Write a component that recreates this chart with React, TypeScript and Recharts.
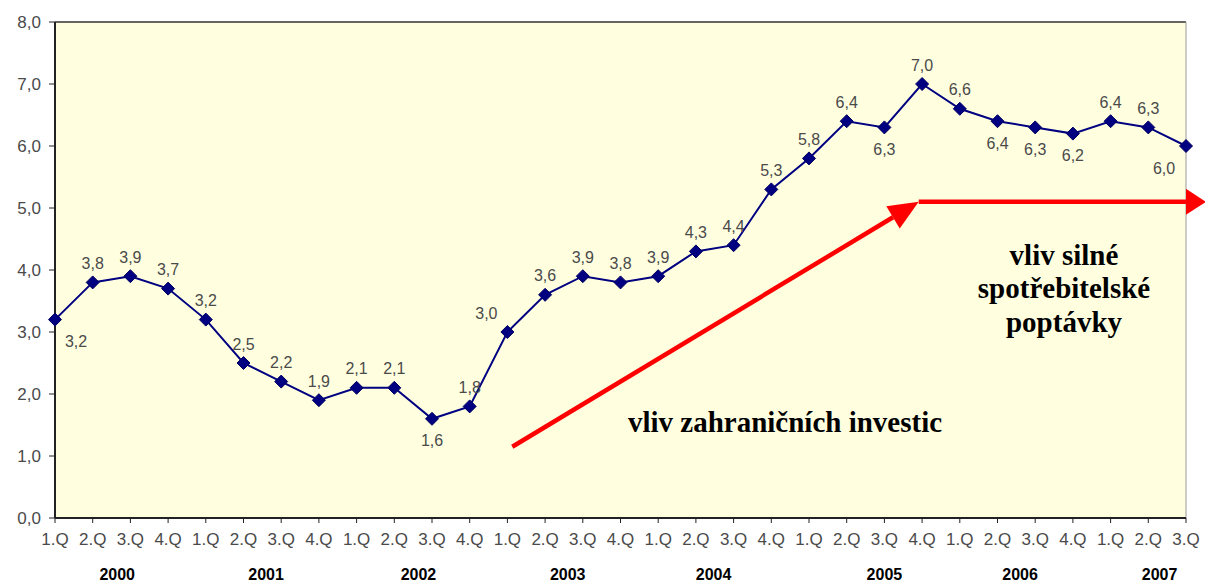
import { LineChart, Line, XAxis, YAxis, CartesianGrid, ReferenceLine, Customized } from 'recharts';

const quarters = [
  '1.Q', '2.Q', '3.Q', '4.Q', '1.Q', '2.Q', '3.Q', '4.Q', '1.Q', '2.Q', '3.Q', '4.Q',
  '1.Q', '2.Q', '3.Q', '4.Q', '1.Q', '2.Q', '3.Q', '4.Q', '1.Q', '2.Q', '3.Q', '4.Q',
  '1.Q', '2.Q', '3.Q', '4.Q', '1.Q', '2.Q', '3.Q',
];

const values = [
  3.2, 3.8, 3.9, 3.7, 3.2, 2.5, 2.2, 1.9, 2.1, 2.1, 1.6, 1.8,
  3.0, 3.6, 3.9, 3.8, 3.9, 4.3, 4.4, 5.3, 5.8, 6.4, 6.3, 7.0,
  6.6, 6.4, 6.3, 6.2, 6.4, 6.3, 6.0,
];

const years = ['2000', '2001', '2002', '2003', '2004', '2005', '2006', '2007'];
// where the year captions sit along the quarter axis
const yearTicks = [1.65, 5.6, 9.64, 13.6, 17.47, 22.0, 25.6, 29.3];

const yTicks = [0, 1, 2, 3, 4, 5, 6, 7, 8];

// labels drawn under the point instead of above
const belowIdx = [0, 10, 22, 25, 26, 27, 30];
const shiftIdx: Record<number, number> = { 0: 21, 12: -21, 30: -22 };

// arrows, in chart units (x = quarter index, y = value)
const arrowUp = [{ x: 12.13, y: 1.15 }, { x: 22.91, y: 5.1 }];
const arrowRight = [{ x: 22.91, y: 5.1 }, { x: 30.53, y: 5.1 }];

const data = values.map((v, i) => ({ i, v }));

const fmt = (n: number) => n.toFixed(1).replace('.', ',');

const Diamond = (props: any) => {
  const { cx, cy, index, payload } = props;
  if (cx == null || cy == null) return null;
  const s = 6.5;
  const below = belowIdx.includes(index);
  const dx = shiftIdx[index] ?? 0;
  const ty = below ? cy + 22 : cy - 19;
  return (
    <g key={`d-${index}`}>
      <polygon
        points={`${cx},${cy - s} ${cx + s},${cy} ${cx},${cy + s} ${cx - s},${cy}`}
        fill="#000080"
        stroke="#000060"
        strokeWidth={1}
      />
      <text
        x={cx + dx}
        y={ty}
        textAnchor="middle"
        dominantBaseline="central"
        fontSize={16}
        fontFamily="'Liberation Sans', Arial, sans-serif"
        fill="#4a4a4a"
      >
        {fmt(payload.v)}
      </text>
    </g>
  );
};

const Arrow = (props: any) => {
  const { x1, y1, x2, y2 } = props;
  if (x1 == null) return null;
  const len = props.headLen ?? 26;
  const half = props.headHalf ?? 12;
  const ang = Math.atan2(y2 - y1, x2 - x1);
  const bx = x2 - len * Math.cos(ang);
  const by = y2 - len * Math.sin(ang);
  const px = -Math.sin(ang) * half;
  const py = Math.cos(ang) * half;
  return (
    <g>
      <line x1={x1} y1={y1} x2={bx} y2={by} stroke="#FF0000" strokeWidth={4.5} />
      <polygon points={`${x2},${y2} ${bx + px},${by + py} ${bx - px},${by - py}`} fill="#FF0000" />
    </g>
  );
};

const Notes = () => (
  <g fontFamily="'Liberation Serif', 'Times New Roman', serif" fontWeight="bold" fontSize={29} fill="#000">
    <text x={785} y={422} textAnchor="middle" dominantBaseline="central">vliv zahraničních investic</text>
    <text x={1064} y={255} textAnchor="middle" dominantBaseline="central">vliv silné</text>
    <text x={1064} y={288} textAnchor="middle" dominantBaseline="central">spotřebitelské</text>
    <text x={1064} y={322} textAnchor="middle" dominantBaseline="central">poptávky</text>
  </g>
);

export default function App() {
  return (
    <div style={{ position: 'absolute', left: 0, top: 0, background: '#fff' }}>
      <LineChart width={1205} height={583} data={data} margin={{ top: 22, right: 19, left: 0, bottom: 0 }}>
        <CartesianGrid fill="#FFFFE0" fillOpacity={1} horizontal={false} vertical={false} />
        <XAxis
          dataKey="i"
          type="number"
          domain={[0, 30]}
          ticks={data.map((d) => d.i)}
          interval={0}
          tickFormatter={(i: number) => quarters[i] ?? ''}
          tick={{ fontSize: 17, fill: '#4a4a4a', fontFamily: "'Liberation Sans', Arial, sans-serif" }}
          axisLine={{ stroke: '#222', strokeWidth: 2 }}
          tickLine={{ stroke: '#222' }}
          tickSize={5}
          tickMargin={10}
          height={30}
        />
        <XAxis
          xAxisId="year"
          type="number"
          domain={[0, 30]}
          ticks={yearTicks}
          interval={0}
          tickFormatter={(t: number) => years[yearTicks.indexOf(t)] ?? ''}
          tick={{ fontSize: 16, fill: '#000', fontWeight: 'bold', fontFamily: "'Liberation Sans', Arial, sans-serif" }}
          axisLine={false}
          tickLine={false}
          tickSize={0}
          tickMargin={21}
          height={35}
        />
        <YAxis
          domain={[0, 8]}
          ticks={yTicks}
          tickFormatter={fmt}
          tick={{ fontSize: 17, fill: '#4a4a4a', fontFamily: "'Liberation Sans', Arial, sans-serif" }}
          axisLine={{ stroke: '#222', strokeWidth: 2 }}
          tickLine={{ stroke: '#222' }}
          tickSize={6}
          tickMargin={8}
          width={55}
        />
        <ReferenceLine y={8} stroke="#333" strokeWidth={1.5} />
        <ReferenceLine x={30} stroke="#999" strokeWidth={1} />
        <Line
          type="linear"
          dataKey="v"
          stroke="#000080"
          strokeWidth={2}
          dot={<Diamond />}
          activeDot={false}
          isAnimationActive={false}
        />
        <ReferenceLine
          segment={arrowUp}
          ifOverflow="visible"
          shape={(p: any) => <Arrow {...p} headLen={30} headHalf={13} />}
        />
        <ReferenceLine
          segment={arrowRight}
          ifOverflow="visible"
          shape={(p: any) => <Arrow {...p} headLen={20} headHalf={13} />}
        />
        <Customized component={Notes} />
      </LineChart>
    </div>
  );
}
